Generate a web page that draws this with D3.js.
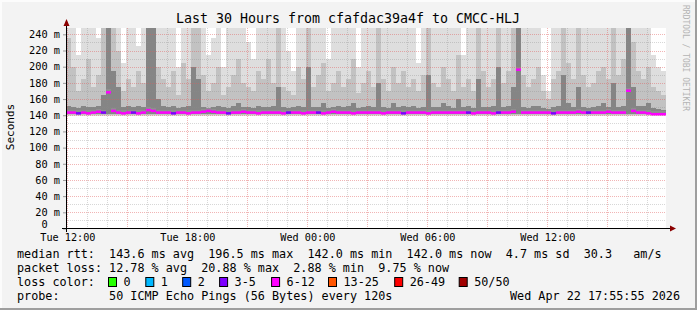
<!DOCTYPE html>
<html>
<head>
<meta charset="utf-8">
<script src="https://cdn.jsdelivr.net/npm/d3@7/dist/d3.min.js"></script>
<style>
  body { margin: 0; background: #f3f3f3; }
  svg { display: block; }
  text { font-family: "DejaVu Sans Mono", monospace; fill: #000; white-space: pre; }
</style>
</head>
<body>
<div id="chart"></div>
<script>
// time window (UTC), 15 minute bins
const startTime = Date.UTC(2026, 3, 21, 11, 55, 55);
const endTime = Date.UTC(2026, 3, 22, 17, 55, 55);
const binMinutes = 15;

// smoke levels in ms per bin (light = outer pings, dark = inner pings)
const lightTop = [
  248,248,215,248,248,248,235,248,248,248, 248,205,248,248,225,248,248,248,248,248,
  248,248,200,248,248,248,248,248,215,235, 248,200,248,248,248,248,230,210,248,248,
  248,248,248,248,220,195,248,248,248,248, 248,248,210,248,248,248,248,248,200,248,
  248,248,248,248,248,248,248,248,248,248, 205,248,248,248,248,248,248,248,248,215,
  248,248,248,248,248,248,248,248,248,248, 248,248,248,248,248,190,170,248,248,248,
  248,248,248,248,248,248,248,248,248,248, 248,248,248,248,248,248,248,215,200,195
];
const midTop = [
  235,200,170,185,210,175,190,248,248,248, 220,170,185,175,195,180,248,248,200,185,
  175,195,165,205,185,248,248,190,170,180, 200,165,175,190,210,180,175,170,195,185,
  210,180,248,175,170,165,200,185,248,175, 190,205,170,180,195,175,185,210,168,180,
  195,175,248,185,170,200,180,195,175,185, 170,190,248,180,175,200,185,170,215,175,
  185,170,248,195,175,185,248,180,195,248, 248,190,175,185,200,170,160,185,195,248,
  205,185,248,190,175,180,195,200,185,248, 190,210,248,230,195,185,200,175,170,165
];
const darkTop = [
  152,150,149,151,150,150,152,165,248,195, 175,150,151,150,152,150,248,248,160,152,
  150,152,149,150,151,200,185,150,149,150, 152,150,149,151,155,150,150,149,152,150,
  150,151,175,150,149,150,152,150,200,150, 150,155,149,150,152,150,151,155,149,150,
  152,150,180,150,149,155,150,152,150,151, 149,150,190,150,150,155,151,149,160,150,
  151,149,185,150,150,151,200,150,152,175, 248,150,149,151,152,149,148,150,151,190,
  155,150,175,150,149,150,152,155,150,180, 150,152,248,175,152,151,155,149,148,147
];
const medianMs = [
  143,143,142,143,142,143,144,143,168,145, 143,142,143,143,142,143,146,145,143,143,
  143,142,143,143,142,143,143,144,145,144, 143,143,142,143,143,144,143,143,142,143,
  143,143,143,142,143,143,143,142,143,143, 143,142,143,144,143,143,143,142,143,143,
  143,143,143,142,143,143,143,142,143,143, 143,143,142,143,143,143,143,143,143,143,
  143,142,143,143,143,142,143,143,143,144, 196,143,143,143,143,143,143,142,143,143,
  143,143,144,143,143,143,143,143,144,143, 143,143,170,145,143,143,142,141,141,141
];
// loss bucket index into lossColors per bin
const lossBucket = [
  4,4,3,4,4,4,4,3,4,4, 4,4,4,3,4,4,4,4,4,4,
  4,3,4,4,4,4,4,4,4,4, 4,4,3,4,4,4,4,4,4,4,
  4,4,4,4,3,4,4,4,4,4, 3,4,4,4,4,4,4,4,4,4,
  4,4,4,4,4,4,4,3,4,4, 4,4,4,4,4,4,4,4,4,4,
  3,4,4,4,4,4,3,4,4,4, 4,4,4,4,4,4,4,3,4,4,
  4,4,4,4,3,4,4,4,4,4, 4,4,4,4,4,4,4,4,4,4
];

const lossLabels = ["0", "1", "2", "3-5", "6-12", "13-25", "26-49", "50/50"];
const lossColors = ["#26ff00", "#00b8ff", "#0059ff", "#7e00ff", "#ff00ff", "#ff5500", "#ff0000", "#a10000"];
const rttLine = "median rtt:  143.6 ms avg  196.5 ms max  142.0 ms min  142.0 ms now  4.7 ms sd  30.3   am/s";
const lossLine = "packet loss: 12.78 % avg  20.88 % max  2.88 % min  9.75 % now";
const colorLabel = "loss color:";
const probeLine = "probe:       50 ICMP Echo Pings (56 Bytes) every 120s";
const stampText = "Wed Apr 22 17:55:55 2026";
const titleText = "Last 30 Hours from cfafdac39a4f to CMCC-HLJ";

const width = 697, height = 310;
const svg = d3.select("#chart").append("svg").attr("width", width).attr("height", height);

// canvas + 3d border
svg.append("rect").attr("width", width).attr("height", height).attr("fill", "#f3f3f3");
svg.append("rect").attr("x", 0).attr("y", 0).attr("width", width).attr("height", 2).attr("fill", "#fcfcfc");
svg.append("rect").attr("x", 0).attr("y", 0).attr("width", 2).attr("height", height).attr("fill", "#fcfcfc");
svg.append("rect").attr("x", 0).attr("y", height - 2).attr("width", width).attr("height", 2).attr("fill", "#9e9e9e");
svg.append("rect").attr("x", width - 2).attr("y", 0).attr("width", 2).attr("height", height).attr("fill", "#9e9e9e");

const x = d3.scaleUtc().domain([startTime, endTime]).range([66, 666]);
const y = d3.scaleLinear().domain([0, 247.2]).range([228.5, 28.5]);

svg.append("rect").attr("x", 66).attr("y", 28).attr("width", 600).attr("height", 200).attr("fill", "#fff");

// smoke
const bins = medianMs.map((m, i) => ({
  t0: startTime + i * binMinutes * 60000,
  t1: startTime + (i + 1) * binMinutes * 60000,
  light: lightTop[i], mid: midTop[i], dark: darkTop[i], median: m, loss: lossBucket[i]
}));
const yTop = v => Math.max(28, y(v));
const smoke = svg.append("g").attr("shape-rendering", "crispEdges");
const layers = [
  { key: "light", low: 139.5, color: "#dedede" },
  { key: "mid", low: 140, color: "#c2c2c2" },
  { key: "dark", low: 141, color: "#858585" }
];
layers.forEach(l => {
  smoke.selectAll(null).data(bins).join("rect")
    .attr("x", d => x(d.t0)).attr("width", d => x(d.t1) - x(d.t0))
    .attr("y", d => yTop(d[l.key]))
    .attr("height", d => Math.max(0, y(l.low) - yTop(d[l.key])))
    .attr("fill", l.color);
});
// dense band just above the median
smoke.selectAll(null).data(bins).join("rect")
  .attr("x", d => x(d.t0)).attr("width", d => x(d.t1) - x(d.t0))
  .attr("y", d => y(d.median + 4)).attr("height", d => y(d.median) - y(d.median + 4))
  .attr("fill", "#8f8f8f");

// grid on top
const grid = svg.append("g").attr("stroke-dasharray", "1,1").attr("shape-rendering", "crispEdges");
const hourTicks = x.ticks(d3.utcHour.every(1));
const majorCol = "rgba(225,90,90,0.45)", minorCol = "rgba(140,140,140,0.35)";
grid.selectAll(null).data(hourTicks).join("line")
  .attr("x1", d => Math.round(x(d)) + 0.5).attr("x2", d => Math.round(x(d)) + 0.5)
  .attr("y1", 28).attr("y2", 228)
  .attr("stroke", d => d.getUTCHours() % 3 === 0 ? majorCol : minorCol);
const yMinor = d3.range(10, 247, 10);
grid.selectAll(null).data(yMinor).join("line")
  .attr("x1", 66).attr("x2", 666)
  .attr("y1", d => Math.round(y(d)) + 0.5).attr("y2", d => Math.round(y(d)) + 0.5)
  .attr("stroke", d => d % 20 === 0 ? majorCol : minorCol);

// median line coloured by loss
svg.append("g").selectAll(null).data(bins).join("rect")
  .attr("x", d => x(d.t0)).attr("width", d => x(d.t1) - x(d.t0))
  .attr("y", d => y(d.median) - 1.5).attr("height", 2.5)
  .attr("fill", d => lossColors[d.loss]);

// axes
const yAxis = svg.append("g").attr("transform", "translate(66,0)")
  .call(d3.axisLeft(y).tickValues(d3.range(0, 241, 20)).tickSize(3).tickPadding(3)
    .tickFormat(v => v === 0 ? "0  " : v + " m"));
yAxis.select(".domain").remove();
yAxis.selectAll("line").attr("stroke", "#999");
yAxis.selectAll("text").attr("font-size", "10.3px").attr("font-family", "DejaVu Sans Mono");
yAxis.selectAll(".tick").filter(d => d === 0).select("text").attr("dy", "-0.1em");

const xAxis = svg.append("g").attr("transform", "translate(0,228.5)")
  .call(d3.axisBottom(x).ticks(d3.utcHour.every(6)).tickSize(0).tickPadding(5)
    .tickFormat(d3.utcFormat("%a %H:%M")));
xAxis.select(".domain").remove();
xAxis.selectAll("text").attr("font-size", "10.2px").attr("font-family", "DejaVu Sans Mono");

svg.append("line").attr("x1", 62).attr("x2", 670).attr("y1", 228.5).attr("y2", 228.5).attr("stroke", "#000");
svg.append("line").attr("x1", 66.5).attr("x2", 66.5).attr("y1", 232).attr("y2", 24).attr("stroke", "#000");
svg.append("path").attr("d", "M670,225.5L676,228.5L670,231.5Z").attr("fill", "#8b0000");
svg.append("path").attr("d", "M63.5,26L66.5,19L69.5,26Z").attr("fill", "#8b0000");

// titles
svg.append("text").attr("x", 348).attr("y", 23).attr("text-anchor", "middle")
  .attr("font-size", "13.3px").text(titleText);
svg.append("text").attr("transform", "translate(14,127) rotate(-90)").attr("text-anchor", "middle")
  .attr("font-size", "11px").text("Seconds");
svg.append("text").attr("transform", "translate(683,5) rotate(90)")
  .attr("font-size", "8px").style("fill", "#b4b4b4").text("RRDTOOL / TOBI OETIKER");

// legend (monospace rows)
const rowY = [258, 272, 286, 300];
const lg = svg.append("g").attr("font-size", "11.78px");
lg.append("text").attr("x", 17).attr("y", rowY[0]).text(rttLine);
lg.append("text").attr("x", 17).attr("y", rowY[1]).text(lossLine);
lg.append("text").attr("x", 17).attr("y", rowY[2]).text(colorLabel);
const boxX = [108, 145.3, 182.2, 219.1, 271.1, 328, 394.2, 458.7];
lg.selectAll(null).data(lossColors).join("rect")
  .attr("x", (d, i) => boxX[i] + 0.5).attr("y", rowY[2] - 8.5).attr("width", 8).attr("height", 9)
  .attr("fill", d => d).attr("stroke", "#000");
lg.selectAll(null).data(lossLabels).join("text")
  .attr("x", (d, i) => boxX[i] + 15.5).attr("y", rowY[2]).text(d => d);
lg.append("text").attr("x", 17).attr("y", rowY[3]).text(probeLine);
lg.append("text").attr("x", 680).attr("y", rowY[3]).attr("text-anchor", "end").text(stampText);
</script>
</body>
</html>
